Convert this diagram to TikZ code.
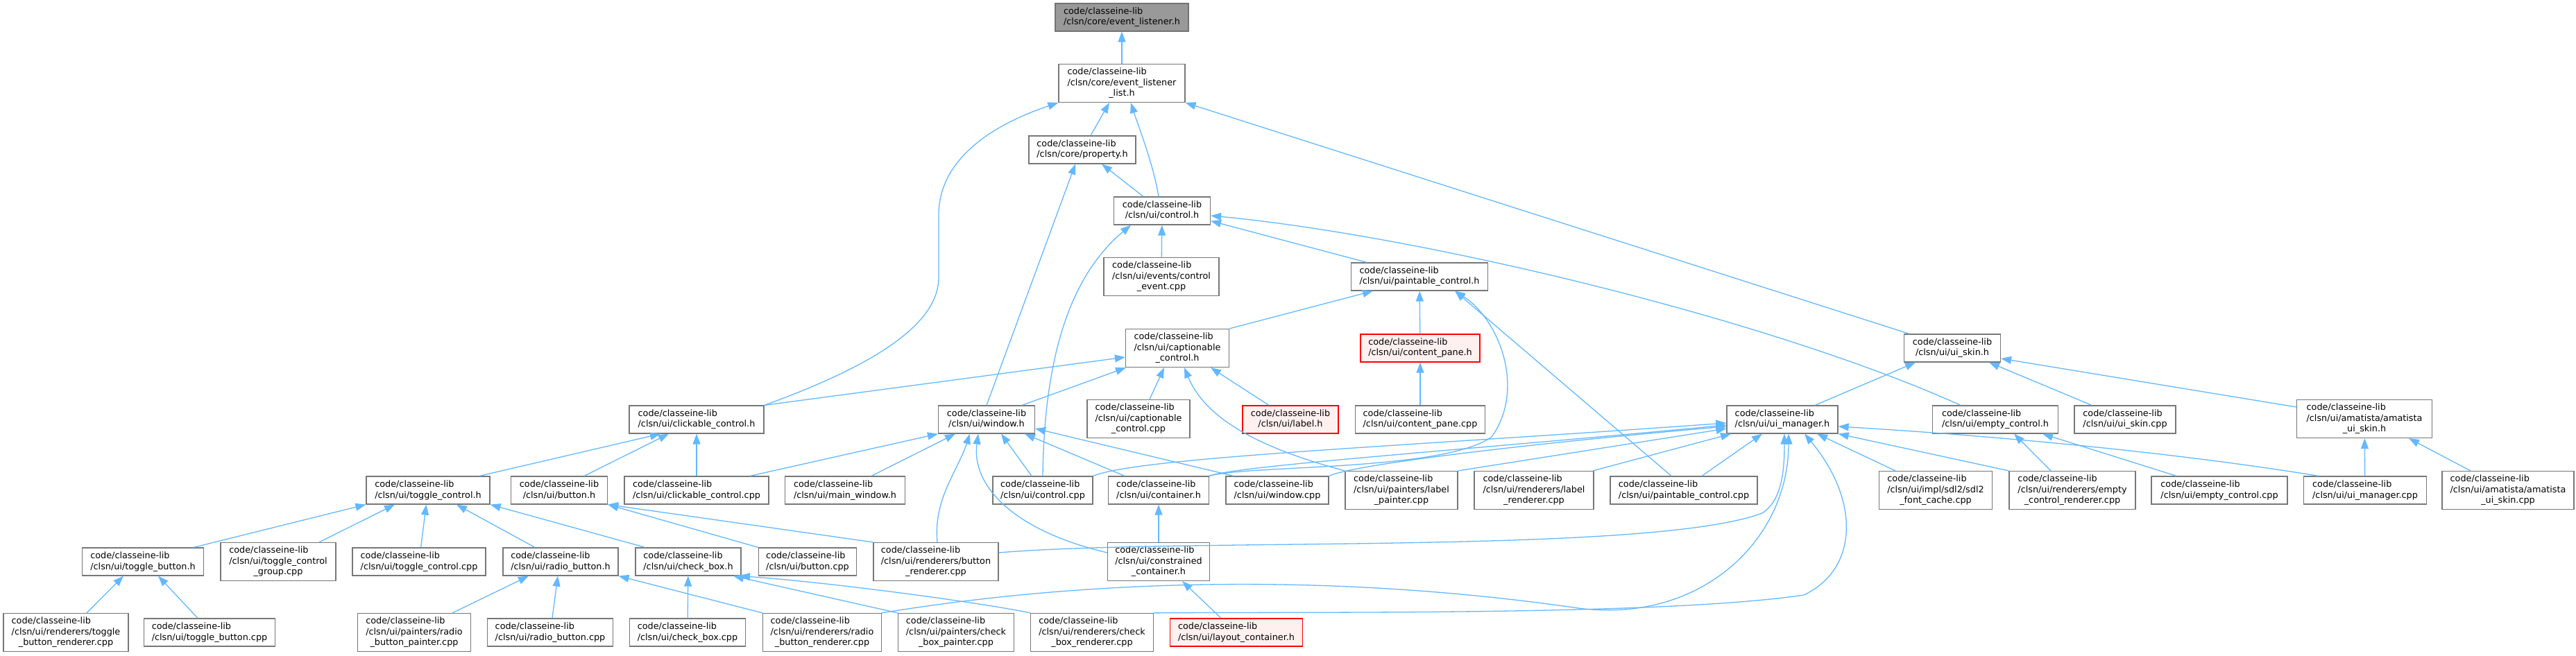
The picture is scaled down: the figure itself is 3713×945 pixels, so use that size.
\documentclass[tikz,border=0pt]{standalone}
\usepackage{fontspec}
\setmainfont{DejaVu Sans}
\usetikzlibrary{arrows.meta}

\definecolor{edgeblue}{HTML}{63B8FF}
\definecolor{nodegray}{HTML}{777777}
\definecolor{rootfill}{HTML}{999999}
\definecolor{missfill}{HTML}{FFF0F0}

% file labels: first lines left, last line centred
\newcommand{\fl}[2]{\begin{tabular}{@{}l@{}}#1\\\multicolumn{1}{@{}c@{}}{#2}\end{tabular}}
\newcommand{\flll}[3]{\begin{tabular}{@{}l@{}}#1\\#2\\\multicolumn{1}{@{}c@{}}{#3}\end{tabular}}

\begin{document}
\begin{tikzpicture}[x=1pt, y=-1pt,
        file/.style={draw=nodegray, fill=white, line width=1.2pt, minimum height=40, inner sep=0pt, font=\fontsize{12.8}{15.7}\selectfont},
        tall/.style={minimum height=55},
        root/.style={file, fill=rootfill, draw=gray!90!black},
        missing/.style={file, draw=red, fill=missfill},
        dep/.style={draw=edgeblue, line width=1.3pt, -{Triangle[length=15pt, width=11pt]}}
    ]
    \useasboundingbox (0,0) rectangle (3713,945);

    % Top of the graph
    \node[root, minimum width=192] (evl) at (1617,25) {\fl{code/classeine-lib}{/clsn/core/event\_listener.h}};
    \node[file, tall, minimum width=182] (evll) at (1617,120) {\flll{code/classeine-lib}{/clsn/core/event\_listener}{\_list.h}};
    \node[file, minimum width=154] (prop) at (1560,216) {\fl{code/classeine-lib}{/clsn/core/property.h}};
    \node[file, minimum width=139] (ctrl) at (1675,304) {\fl{code/classeine-lib}{/clsn/ui/control.h}};
    \node[file, tall, minimum width=166] (cevt) at (1674,399) {\flll{code/classeine-lib}{/clsn/ui/events/control}{\_event.cpp}};
    \node[file, minimum width=197] (pctl) at (2046,399) {\fl{code/classeine-lib}{/clsn/ui/paintable\_control.h}};
    \node[file, tall, minimum width=149] (cctl) at (1697,502) {\flll{code/classeine-lib}{/clsn/ui/captionable}{\_control.h}};
    \node[missing, minimum width=172] (cpane) at (2047,502) {\fl{code/classeine-lib}{/clsn/ui/content\_pane.h}};
    \node[file, minimum width=139] (skin) at (2814,502) {\fl{code/classeine-lib}{/clsn/ui/ui\_skin.h}};

    % Middle row
    \node[file, minimum width=194] (clk) at (1004,605) {\fl{code/classeine-lib}{/clsn/ui/clickable\_control.h}};
    \node[file, minimum width=139] (win) at (1422,605) {\fl{code/classeine-lib}{/clsn/ui/window.h}};
    \node[file, tall, minimum width=148] (ccpp) at (1641,604) {\flll{code/classeine-lib}{/clsn/ui/captionable}{\_control.cpp}};
    \node[missing, minimum width=138] (label) at (1860,605) {\fl{code/classeine-lib}{/clsn/ui/label.h}};
    \node[file, minimum width=187] (cpcpp) at (2047,605) {\fl{code/classeine-lib}{/clsn/ui/content\_pane.cpp}};
    \node[file, minimum width=160] (uim) at (2569,605) {\fl{code/classeine-lib}{/clsn/ui/ui\_manager.h}};
    \node[file, minimum width=181] (empty) at (2876,605) {\fl{code/classeine-lib}{/clsn/ui/empty\_control.h}};
    \node[file, minimum width=146] (skincpp) at (3063,605) {\fl{code/classeine-lib}{/clsn/ui/ui\_skin.cpp}};
    \node[file, tall, minimum width=195] (amh) at (3408,604) {\flll{code/classeine-lib}{/clsn/ui/amatista/amatista}{\_ui\_skin.h}};

    \node[file, minimum width=178] (tgl) at (617,707) {\fl{code/classeine-lib}{/clsn/ui/toggle\_control.h}};
    \node[file, minimum width=139] (btn) at (806,707) {\fl{code/classeine-lib}{/clsn/ui/button.h}};
    \node[file, minimum width=208] (clkcpp) at (1004,707) {\fl{code/classeine-lib}{/clsn/ui/clickable\_control.cpp}};
    \node[file, minimum width=173] (mwin) at (1218,707) {\fl{code/classeine-lib}{/clsn/ui/main\_window.h}};
    \node[file, minimum width=144] (ctrlcpp) at (1503,707) {\fl{code/classeine-lib}{/clsn/ui/control.cpp}};
    \node[file, minimum width=145] (cont) at (1670,707) {\fl{code/classeine-lib}{/clsn/ui/container.h}};
    \node[file, minimum width=148] (wincpp) at (1841,707) {\fl{code/classeine-lib}{/clsn/ui/window.cpp}};
    \node[file, tall, minimum width=162] (lpaint) at (2020,707) {\flll{code/classeine-lib}{/clsn/ui/painters/label}{\_painter.cpp}};
    \node[file, tall, minimum width=172] (lrend) at (2211,707) {\flll{code/classeine-lib}{/clsn/ui/renderers/label}{\_renderer.cpp}};
    \node[file, minimum width=212] (pcpp) at (2427,707) {\fl{code/classeine-lib}{/clsn/ui/paintable\_control.cpp}};
    \node[file, tall, minimum width=163] (sdl) at (2790,707) {\flll{code/classeine-lib}{/clsn/ui/impl/sdl2/sdl2}{\_font\_cache.cpp}};
    \node[file, tall, minimum width=182] (ecrend) at (2987,707) {\flll{code/classeine-lib}{/clsn/ui/renderers/empty}{\_control\_renderer.cpp}};
    \node[file, minimum width=196] (ecpp) at (3199,707) {\fl{code/classeine-lib}{/clsn/ui/empty\_control.cpp}};
    \node[file, minimum width=177] (uimcpp) at (3409,707) {\fl{code/classeine-lib}{/clsn/ui/ui\_manager.cpp}};
    \node[file, tall, minimum width=190] (amcpp) at (3615,707) {\flll{code/classeine-lib}{/clsn/ui/amatista/amatista}{\_ui\_skin.cpp}};

    % Lower rows
    \node[file, minimum width=175] (tbtn) at (206,810) {\fl{code/classeine-lib}{/clsn/ui/toggle\_button.h}};
    \node[file, tall, minimum width=166] (tgroup) at (401,810) {\flll{code/classeine-lib}{/clsn/ui/toggle\_control}{\_group.cpp}};
    \node[file, minimum width=192] (tcpp) at (604,810) {\fl{code/classeine-lib}{/clsn/ui/toggle\_control.cpp}};
    \node[file, minimum width=166] (radio) at (808,810) {\fl{code/classeine-lib}{/clsn/ui/radio\_button.h}};
    \node[file, minimum width=152] (check) at (992,810) {\fl{code/classeine-lib}{/clsn/ui/check\_box.h}};
    \node[file, minimum width=141] (btncpp) at (1164,810) {\fl{code/classeine-lib}{/clsn/ui/button.cpp}};
    \node[file, tall, minimum width=180] (brend) at (1349,810) {\flll{code/classeine-lib}{/clsn/ui/renderers/button}{\_renderer.cpp}};
    \node[file, tall, minimum width=147] (ccont) at (1670,810) {\flll{code/classeine-lib}{/clsn/ui/constrained}{\_container.h}};

    \node[file, tall, minimum width=180] (tbrend) at (95,912) {\flll{code/classeine-lib}{/clsn/ui/renderers/toggle}{\_button\_renderer.cpp}};
    \node[file, minimum width=189] (tbcpp) at (302,912) {\fl{code/classeine-lib}{/clsn/ui/toggle\_button.cpp}};
    \node[file, tall, minimum width=163] (rpaint) at (597,912) {\flll{code/classeine-lib}{/clsn/ui/painters/radio}{\_button\_painter.cpp}};
    \node[file, minimum width=181] (rcpp) at (793,912) {\fl{code/classeine-lib}{/clsn/ui/radio\_button.cpp}};
    \node[file, minimum width=167] (chkcpp) at (991,912) {\fl{code/classeine-lib}{/clsn/ui/check\_box.cpp}};
    \node[file, tall, minimum width=171] (rrend) at (1185,912) {\flll{code/classeine-lib}{/clsn/ui/renderers/radio}{\_button\_renderer.cpp}};
    \node[file, tall, minimum width=167] (cpaint) at (1378,912) {\flll{code/classeine-lib}{/clsn/ui/painters/check}{\_box\_painter.cpp}};
    \node[file, tall, minimum width=177] (crend) at (1574,912) {\flll{code/classeine-lib}{/clsn/ui/renderers/check}{\_box\_renderer.cpp}};
    \node[missing, minimum width=191] (layout) at (1782,912) {\fl{code/classeine-lib}{/clsn/ui/layout\_container.h}};

    % Includes of the core headers
    \draw[dep] (evll) -- (evl);
    \draw[dep] ([xshift=12]prop.north) -- ([xshift=-18]evll.south);
    \draw[dep] ([xshift=-5]ctrl.north) .. controls (1662,235) and (1640,180) .. ([xshift=13]evll.south);
    \draw[dep] (clk.north east) .. controls (1280,520) and (1353,460) .. (1353,400) -- (1353,310) .. controls (1353,230) and (1430,180) .. (evll.south west);
    \draw[dep] ([xshift=-62]skin.north) -- (evll.south east);
    \draw[dep] ([xshift=-27]ctrl.north) -- ([xshift=28]prop.south);
    \draw[dep] (win.north) -- ([xshift=-10]prop.south);

    % control.h and its users
    \draw[dep] (cevt) -- (ctrl);
    \draw[dep] ([xshift=-76]pctl.north) -- ([yshift=6]ctrl.south east);
    \draw[dep] ([xshift=-50]empty.north) .. controls (2550,460) and (2050,340) .. ([yshift=-7]ctrl.east);
    \draw[dep] (ctrlcpp.north) .. controls (1505,520) and (1540,400) .. ([xshift=-45]ctrl.south);
    \draw[dep] (cctl.north east) -- ([xshift=-67]pctl.south);
    \draw[dep] (cpane) -- (pctl);
    \draw[dep] (cpcpp) -- (cpane);
    \draw[dep] ([xshift=-18]pcpp.north) -- ([xshift=51]pctl.south);
    \draw[dep] (cont.north east) .. controls (1800,670) and (2080,680) .. (2150,630) .. controls (2200,560) and (2160,460) .. ([xshift=51]pctl.south);

    % captionable_control.h
    \draw[dep] ([xshift=16]ccpp.north) -- ([xshift=-19]cctl.south);
    \draw[dep] (clk.north east) -- ([yshift=-13]cctl.west);
    \draw[dep] ([xshift=51]win.north) -- ([xshift=-74]cctl.south);
    \draw[dep] ([xshift=-31]label.north) -- ([xshift=48]cctl.south);
    \draw[dep] (lpaint.north west) .. controls (1830,650) and (1740,610) .. ([xshift=10]cctl.south);
    \draw[dep] ([xshift=85]lrend.north) -- ([xshift=-74]uim.south);

    % ui_skin.h
    \draw[dep] ([xshift=47]uim.north) -- ([xshift=-53]skin.south);
    \draw[dep] ([xshift=-48]skincpp.north) -- ([xshift=53]skin.south);
    \draw[dep] ([yshift=17]amh.west) -- ([yshift=-15]skin.east);

    % clickable_control.h and window.h
    \draw[dep] ([xshift=74]tgl.north) -- ([xshift=-52]clk.south);
    \draw[dep] ([xshift=36]btn.north) -- ([xshift=-40]clk.south);
    \draw[dep] (clkcpp) -- (clk);
    \draw[dep] ([xshift=77]clkcpp.north) -- (win.south west);
    \draw[dep] ([xshift=38]mwin.north) -- ([xshift=-45]win.south);
    \draw[dep] ([xshift=2]brend.north) .. controls (1345,720) and (1380,680) .. ([xshift=-24]win.south);
    \draw[dep] ([yshift=13]ccont.west) .. controls (1460,765) and (1400,700) .. ([xshift=-12]win.south);
    \draw[dep] ([xshift=-16]ctrlcpp.north) -- ([xshift=21]win.south);
    \draw[dep] ([xshift=-49]cont.north) -- ([xshift=55]win.south);
    \draw[dep] ([xshift=-63]wincpp.north) -- ([yshift=-13]win.east);

    % toggle_control.h and friends
    \draw[dep] ([xshift=73]tbtn.north) -- (tgl.south west);
    \draw[dep] ([xshift=59]tgroup.north) -- ([xshift=-48]tgl.south);
    \draw[dep] (tcpp) -- (tgl);
    \draw[dep] ([xshift=-37]radio.north) -- ([xshift=41]tgl.south);
    \draw[dep] ([xshift=-62]check.north) -- (tgl.south east);
    \draw[dep] ([xshift=30]tbrend.north) -- ([xshift=-28]tbtn.south);
    \draw[dep] ([xshift=-17]tbcpp.north) -- ([xshift=22]tbtn.south);
    \draw[dep] ([xshift=55]rpaint.north) -- ([xshift=-46]radio.south);
    \draw[dep] ([xshift=3]rcpp.north) -- ([xshift=-4]radio.south);
    \draw[dep] (rrend.north west) -- (radio.south east);
    \draw[dep] (chkcpp) -- (check);
    \draw[dep] (cpaint.north west) -- ([xshift=65]check.south);
    \draw[dep] ([xshift=-89]crend.north) .. controls (1420,870) and (1200,840) .. ([xshift=74]check.south);
    \draw[dep] (btncpp.north west) -- (btn.south east);
    \draw[dep] (brend.north west) -- (btn.south east);
    \draw[dep] ([xshift=-22]layout.north) -- ([xshift=34]ccont.south);
    \draw[dep] (ccont) -- (cont);

    % empty_control.h and amatista
    \draw[dep] ([xshift=-31]ecrend.north) -- ([xshift=27]empty.south);
    \draw[dep] ([xshift=-62]ecpp.north) -- ([xshift=68]empty.south);
    \draw[dep] (uimcpp) -- (amh);
    \draw[dep] ([xshift=-54]amcpp.north) -- ([xshift=64]amh.south);

    % ui_manager.h
    \draw[dep] ([xshift=26]pcpp.north) -- ([xshift=-29]uim.south);
    \draw[dep] ([xshift=-58]sdl.north) -- ([xshift=50]uim.south);
    \draw[dep] (lpaint.north east) -- ([yshift=-13]uim.west);
    \draw[dep] (ecrend.north west) -- (uim.south east);
    \draw[dep] ([xshift=-67]uimcpp.north) .. controls (3150,655) and (2900,630) .. ([yshift=-10]uim.east);
    \draw[dep] (ctrlcpp.north east) .. controls (1640,660) and (2000,645) .. ([yshift=-5]uim.west);
    \draw[dep] (cont.north east) .. controls (1780,672) and (2100,650) .. ([yshift=-8]uim.west);
    \draw[dep] (wincpp.north east) .. controls (1950,670) and (2200,640) .. ([yshift=-10]uim.west);
    \draw[dep] ([yshift=13]brend.east) .. controls (1700,775) and (2380,800) .. (2540,740) .. controls (2568,722) and (2572,680) .. ([xshift=3]uim.south);
    \draw[dep] (rrend.north east) .. controls (1600,830) and (1950,830) .. (2275,877) .. controls (2450,900) and (2578,780) .. ([xshift=9]uim.south);
    \draw[dep] (crend.north east) .. controls (1900,882) and (2400,888) .. (2600,858) .. controls (2680,820) and (2680,720) .. ([xshift=32]uim.south);

\end{tikzpicture}
\end{document}
